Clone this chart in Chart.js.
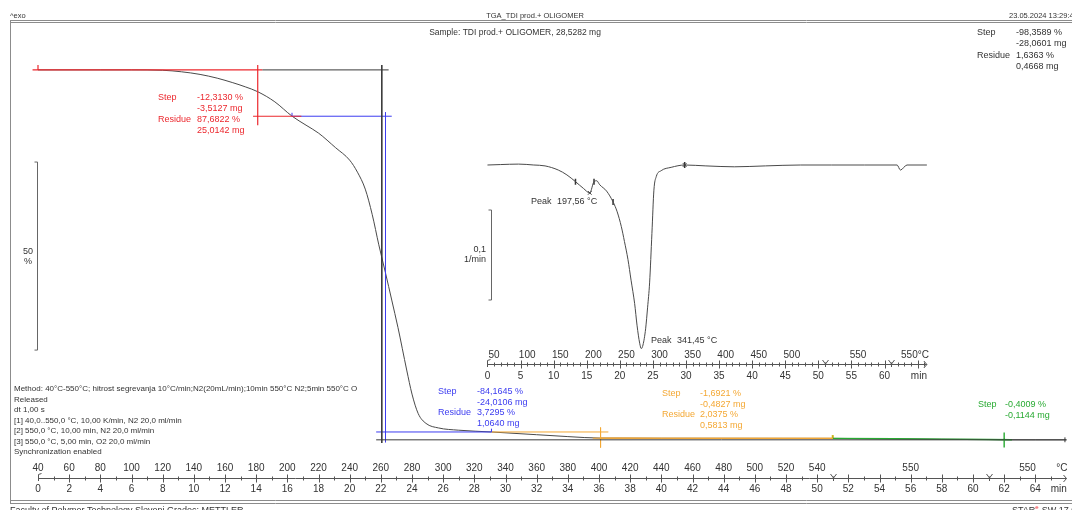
<!DOCTYPE html>
<html><head><meta charset="utf-8">
<script src="https://cdn.jsdelivr.net/npm/chart.js@4.4.1/dist/chart.umd.min.js"></script>
<style>html,body{margin:0;padding:0;background:#fff;}#wrap{position:relative;width:1072px;height:510px;overflow:hidden;}</style>
</head><body><div id="wrap"><canvas id="c" width="1072" height="510"></canvas></div>
<script>
// ---------- TGA curve (time in min, mass in %) ----------
const tgaTime    = [0, 4, 6, 8, 9.2, 10.4, 11.5, 12.5, 13.3, 14.1, 15.2, 16.3, 17.2, 18.0, 19.1, 20.0, 20.5, 21.0, 21.45, 21.87, 22.3, 22.7, 23.1, 23.66, 24.0, 24.4, 24.9, 25.7, 27.0, 29.1, 32.0, 34.0, 36.1, 40.0, 45.0, 51.0, 55.0, 58.0, 61.0, 62.0, 64.0, 66.0];
const tgaPercent = [100.0, 100.0, 100.0, 99.9, 99.5, 98.8, 97.8, 96.6, 95.5, 94.2, 91.5, 87.7, 85.3, 83.2, 79.3, 76.0, 72.8, 68.3, 61.5, 53.5, 46.0, 38.8, 31.5, 20.2, 13.8, 8.6, 6.0, 4.8, 4.2, 3.73, 3.0, 2.5, 2.1, 2.06, 2.04, 2.02, 1.9, 1.8, 1.72, 1.64, 1.63, 1.63];

// ---------- DTG curve (time in min, rate in 1/min) ----------
const dtgTime = [0, 2, 4.7, 7, 8.7, 10.7, 12, 13.3, 14.5, 15.46, 16.1, 16.5, 16.97, 18.0, 18.98, 19.6, 20.23, 20.7, 21.23, 21.7, 22.24, 22.6, 23.0, 23.25, 23.5, 23.9, 24.2, 24.5, 24.85, 25.15, 25.5, 26.25, 27.76, 29.8, 33, 37.3, 42, 47.3, 52, 57, 61.9, 62.4, 63.4, 66.4];
const dtgRate = [0.0, 0.0005, 0.001, 0.0, -0.001, -0.0056, -0.011, -0.0185, -0.026, -0.031, -0.0185, -0.0175, -0.022, -0.029, -0.041, -0.052, -0.0685, -0.085, -0.105, -0.128, -0.154, -0.178, -0.198, -0.204, -0.2, -0.182, -0.158, -0.131, -0.076, -0.028, -0.013, -0.0063, -0.0026, 0.0, -0.001, -0.002, -0.001, 0.0, 0.0, 0.0, 0.0, -0.0056, 0.0, 0.0];
const dtgTickMarks = [13.3, 16.1, 18.98, 29.8];
const dtgPeakMarks = [15.46, 29.8];

// ---------- axes ----------
const mainTimeTicks = [0,2,4,6,8,10,12,14,16,18,20,22,24,26,28,30,32,34,36,38,40,42,44,46,48,50,52,54,56,58,60,62,64];
const mainTempTickTimes  = [0,2,4,6,8,10,12,14,16,18,20,22,24,26,28,30,32,34,36,38,40,42,44,46,48,50,56,63.5];
const mainTempTickLabels = ['40','60','80','100','120','140','160','180','200','220','240','260','280','300','320','340','360','380','400','420','440','460','480','500','520','540','550','550'];
const insetTimeTicks = [0,5,10,15,20,25,30,35,40,45,50,55,60];
const insetTempTickTimes  = [1,6,11,16,21,26,31,36,41,46,56,64.6];
const insetTempTickLabels = ['50','100','150','200','250','300','350','400','450','500','550','550°C'];
const segmentTimes = [51, 61];

// ---------- evaluation limits (time, %) ----------
const redSegs   = [[[-0.35,100],[14.4,100]], [[14.1,101.3],[14.1,85.3]], [[13.8,87.68],[16.9,87.68]], [[0,100],[0,101.3]]];
const blackSegs = [[[14.4,100],[22.5,100]], [[22.06,101.3],[22.06,0.8]], [[21.7,1.64],[66,1.64]], [[65.9,1.0],[65.9,2.3]]];
const blueSegs  = [[[16.3,87.68],[22.7,87.68]], [[22.3,88.7],[22.3,1.0]], [[21.7,3.73],[29.1,3.73]], [[16.3,87.68],[16.3,88.6]], [[29.1,3.73],[29.1,4.6]]];
const orangeSegs= [[[29.1,3.73],[36.6,3.73]], [[36.1,4.9],[36.1,-0.4]], [[35.6,2.08],[51,2.04]]];
const yellowSegs= [[[51,2.04],[51,2.9]]];
const greenSegs = [[[51,2.02],[55,1.92],[58,1.82],[61,1.74],[62.5,1.66]], [[62,3.6],[62,-0.4]]];

function segs(list){
  const out=[];
  list.forEach((s,i)=>{ if(i) out.push({x:s[0][0],y:null}); s.forEach(p=>out.push({x:p[0],y:p[1]})); });
  return out;
}

const AREA = {left:38, right:1070, top:21, bottom:446};
const xMain = {min:0, max:66};
const yMain = {min:0, max:113};
// inset: time 0 at x=489, 6.64 px/min; rate 0 at y=165, 900 px per 1/min
const insetX0 = 489, insetPxMin = 6.64, insetY0 = 165, insetPxRate = 900;
const x2min = (AREA.left-insetX0)/insetPxMin, x2max = (AREA.right-insetX0)/insetPxMin;
const y2max = (insetY0-AREA.top)/insetPxRate, y2min = (insetY0-AREA.bottom)/insetPxRate;

const RED='rgb(236,40,46)', BLUE='rgb(60,60,240)', ORANGE='rgb(244,168,52)', GREEN='rgb(40,170,50)', YEL='rgb(200,180,20)', INK='#333';

function lineDs(data,color,w,xa,ya,extra){
  return Object.assign({data, borderColor:color, borderWidth:w, pointRadius:0, tension:0, spanGaps:false, fill:false, clip:false, xAxisID:xa||'x', yAxisID:ya||'y'}, extra||{});
}

const FONT = '"Liberation Sans", Arial, sans-serif';
function txt(ctx,s,x,y,color,size,align){
  ctx.fillStyle=color; ctx.font=size+'px '+FONT; ctx.textAlign=align||'left'; ctx.textBaseline='middle'; ctx.fillText(s,x,y);
}
function ln(ctx,x1,y1,x2,y2){ctx.beginPath();ctx.moveTo(x1,y1);ctx.lineTo(x2,y2);ctx.stroke();}

function drawAxis(ctx, sc, y, tEnd, minorStep, majorStep, tickTimes, tickLabels, tempTimes, tempLabels, unitT, unitTemp){
  ctx.strokeStyle='#555'; ctx.lineWidth=1;
  const p = t=>Math.round(sc.getPixelForValue(t))+0.5;
  ln(ctx, p(0), y+0.5, sc.getPixelForValue(tEnd), y+0.5);
  for(let t=minorStep;t<tEnd;t+=minorStep){
    const major = Math.abs(t/majorStep-Math.round(t/majorStep))<1e-6;
    const h = major?4:2;
    ln(ctx,p(t),y+0.5-h,p(t),y+0.5+h);
  }
  ln(ctx,p(0),y+0.5-4,p(0),y+3); ln(ctx,p(0),y-3.5,p(0)+3,y-4.5);
  segmentTimes.forEach(t=>{ const x=p(t); ln(ctx,x-3,y-4,x,y); ln(ctx,x+3,y-4,x,y); ln(ctx,x,y,x,y+3); });
  const xe=sc.getPixelForValue(tEnd); ln(ctx,xe-3,y-3,xe,y+0.5); ln(ctx,xe-3,y+4,xe,y+0.5);
  tickTimes.forEach((t,i)=>txt(ctx,tickLabels[i],sc.getPixelForValue(t),unitT.y,INK,10,'center'));
  tempTimes.forEach((t,i)=>txt(ctx,tempLabels[i],sc.getPixelForValue(t),unitTemp.y,INK,10,'center'));
  txt(ctx,unitT.s,sc.getPixelForValue(unitT.t),unitT.y,INK,10,'center');
  if(unitTemp.s) txt(ctx,unitTemp.s,sc.getPixelForValue(unitTemp.t),unitTemp.y,INK,10,'center');
}

const framePlugin = {
  id:'frame',
  beforeDraw(chart){ const c=chart.ctx; c.save(); c.fillStyle='#fff'; c.fillRect(0,0,chart.width,chart.height); c.restore(); },
  afterDraw(chart){
    const ctx=chart.ctx; ctx.save();
    const X=chart.scales.x, Y=chart.scales.y, X2=chart.scales.x2, Y2=chart.scales.y2;
    ctx.strokeStyle='#8c8c8c'; ctx.lineWidth=1;
    ln(ctx,10,20.5,1072,20.5); ln(ctx,10,22.5,1072,22.5);
    ln(ctx,10.5,20.5,10.5,503.5);
    ln(ctx,10,500.5,1072,500.5); ln(ctx,10,503.5,1072,503.5);
    txt(ctx,'^exo',10,16,INK,7.5);
    txt(ctx,'TGA_TDI prod.+ OLIGOMER',535,16,INK,7.5,'center');
    txt(ctx,'23.05.2024 13:29:4',1009,16,INK,7.5);
    txt(ctx,'Sample: TDI prod.+ OLIGOMER, 28,5282 mg',515,33,INK,8.5,'center');
    txt(ctx,'Step',977,33,INK,9); txt(ctx,'-98,3589 %',1016,33,INK,9);
    txt(ctx,'-28,0601 mg',1016,44,INK,9);
    txt(ctx,'Residue',977,56,INK,9); txt(ctx,'1,6363 %',1016,56,INK,9);
    txt(ctx,'0,4668 mg',1016,67,INK,9);
    txt(ctx,'Step',158,98,RED,9); txt(ctx,'-12,3130 %',197,98,RED,9);
    txt(ctx,'-3,5127 mg',197,109,RED,9);
    txt(ctx,'Residue',158,120,RED,9); txt(ctx,'87,6822 %',197,120,RED,9);
    txt(ctx,'25,0142 mg',197,131,RED,9);
    txt(ctx,'Step',438,392,BLUE,9); txt(ctx,'-84,1645 %',477,392,BLUE,9);
    txt(ctx,'-24,0106 mg',477,403,BLUE,9);
    txt(ctx,'Residue',438,413,BLUE,9); txt(ctx,'3,7295 %',477,413,BLUE,9);
    txt(ctx,'1,0640 mg',477,424,BLUE,9);
    txt(ctx,'Step',662,394,ORANGE,9); txt(ctx,'-1,6921 %',700,394,ORANGE,9);
    txt(ctx,'-0,4827 mg',700,405,ORANGE,9);
    txt(ctx,'Residue',662,415,ORANGE,9); txt(ctx,'2,0375 %',700,415,ORANGE,9);
    txt(ctx,'0,5813 mg',700,426,ORANGE,9);
    txt(ctx,'Step',978,405,GREEN,9); txt(ctx,'-0,4009 %',1005,405,GREEN,9);
    txt(ctx,'-0,1144 mg',1005,416,GREEN,9);
    const meth=['Method: 40°C-550°C; hitrost segrevanja 10°C/min;N2(20mL/min);10min 550°C N2;5min 550°C O','Released','dt 1,00 s','[1] 40,0..550,0 °C, 10,00 K/min, N2 20,0 ml/min','[2] 550,0 °C, 10,00 min, N2 20,0 ml/min','[3] 550,0 °C, 5,00 min, O2 20,0 ml/min','Synchronization enabled'];
    meth.forEach((s,i)=>txt(ctx,s,14,389+i*10.5,INK,8));
    txt(ctx,'Peak',531,202,INK,9); txt(ctx,'197,56 °C',557,202,INK,9);
    txt(ctx,'Peak',651,341,INK,9); txt(ctx,'341,45 °C',677,341,INK,9);
    ctx.strokeStyle='#666';
    const bx=37.5, b1=Y.getPixelForValue(75.5), b2=Y.getPixelForValue(25.5);
    ln(ctx,bx,b1,bx,b2); ln(ctx,bx-3,b1,bx,b1); ln(ctx,bx-3,b2,bx,b2);
    txt(ctx,'50',28,(b1+b2)/2-5,INK,9,'center'); txt(ctx,'%',28,(b1+b2)/2+5,INK,9,'center');
    const dx=491.5, d1=Y2.getPixelForValue(-0.05), d2=Y2.getPixelForValue(-0.15);
    ln(ctx,dx,d1,dx,d2); ln(ctx,dx-3,d1,dx,d1); ln(ctx,dx-3,d2,dx,d2);
    txt(ctx,'0,1',486,(d1+d2)/2-5,INK,9,'right'); txt(ctx,'1/min',486,(d1+d2)/2+5,INK,9,'right');
    drawAxis(ctx,X,478,66,1,2,mainTimeTicks,mainTimeTicks.map(String),mainTempTickTimes,mainTempTickLabels,{s:'min',t:65.5,y:489},{s:'°C',t:65.7,y:468});
    drawAxis(ctx,X2,364,66.4,1,5,insetTimeTicks,insetTimeTicks.map(String),insetTempTickTimes,insetTempTickLabels,{s:'min',t:65.2,y:376},{s:'',t:0,y:355});
    ctx.fillStyle=INK; ctx.font='9px '+FONT; ctx.textAlign='left'; ctx.textBaseline='alphabetic';
    ctx.fillText('Faculty of Polymer Technology Slovenj Gradec: METTLER',10,513);
    ctx.fillText('STAR',1012,513); const w=ctx.measureText('STAR').width;
    ctx.fillStyle=RED; ctx.font='6px '+FONT; ctx.fillText('e',1012+w,509);
    ctx.fillStyle=INK; ctx.font='9px '+FONT; ctx.fillText(' SW 17.0',1016+w,513);
    ctx.restore();
  }
};

const tgaData = tgaTime.map((t,i)=>({x:t,y:tgaPercent[i]}));
const dtgData = dtgTime.map((t,i)=>({x:t,y:dtgRate[i]}));
const orangeCurve = tgaData.filter(p=>p.x>=36.1 && p.x<=51);
const rateAt = t=>dtgRate[dtgTime.indexOf(t)];

new Chart(document.getElementById('c'),{
  type:'line',
  data:{datasets:[
    lineDs(segs(blackSegs),'#3a3a3a',1),
    lineDs(segs(redSegs),RED,1.2),
    lineDs(segs(blueSegs),BLUE,1),
    lineDs(segs(orangeSegs),ORANGE,1),
    lineDs(orangeCurve,ORANGE,1.2,'x','y',{cubicInterpolationMode:'monotone'}),
    lineDs(segs(greenSegs),GREEN,1.4),
    lineDs(segs(yellowSegs),YEL,2),
    lineDs(tgaData,'#4a4a4a',1,'x','y',{cubicInterpolationMode:'monotone'}),
    lineDs(dtgData,'#4a4a4a',1,'x2','y2',{cubicInterpolationMode:'monotone'}),
    {type:'scatter',data:dtgTickMarks.map(t=>({x:t,y:rateAt(t)})),xAxisID:'x2',yAxisID:'y2',pointStyle:'line',rotation:90,pointRadius:3,borderColor:'#333',borderWidth:1.5,showLine:false},
    {type:'scatter',data:dtgPeakMarks.map(t=>({x:t,y:rateAt(t)})),xAxisID:'x2',yAxisID:'y2',pointStyle:'crossRot',pointRadius:2.5,borderColor:'#333',borderWidth:1,showLine:false}
  ]},
  options:{
    responsive:false, animation:false, events:[],
    layout:{padding:{left:AREA.left,right:1072-AREA.right,top:AREA.top,bottom:510-AREA.bottom}},
    plugins:{legend:{display:false},tooltip:{enabled:false}},
    scales:{
      x:{type:'linear',display:false,min:xMain.min,max:xMain.max},
      y:{type:'linear',display:false,min:yMain.min,max:yMain.max},
      x2:{type:'linear',display:false,min:x2min,max:x2max},
      y2:{type:'linear',display:false,min:y2min,max:y2max}
    }
  },
  plugins:[framePlugin]
});
</script></body></html>
